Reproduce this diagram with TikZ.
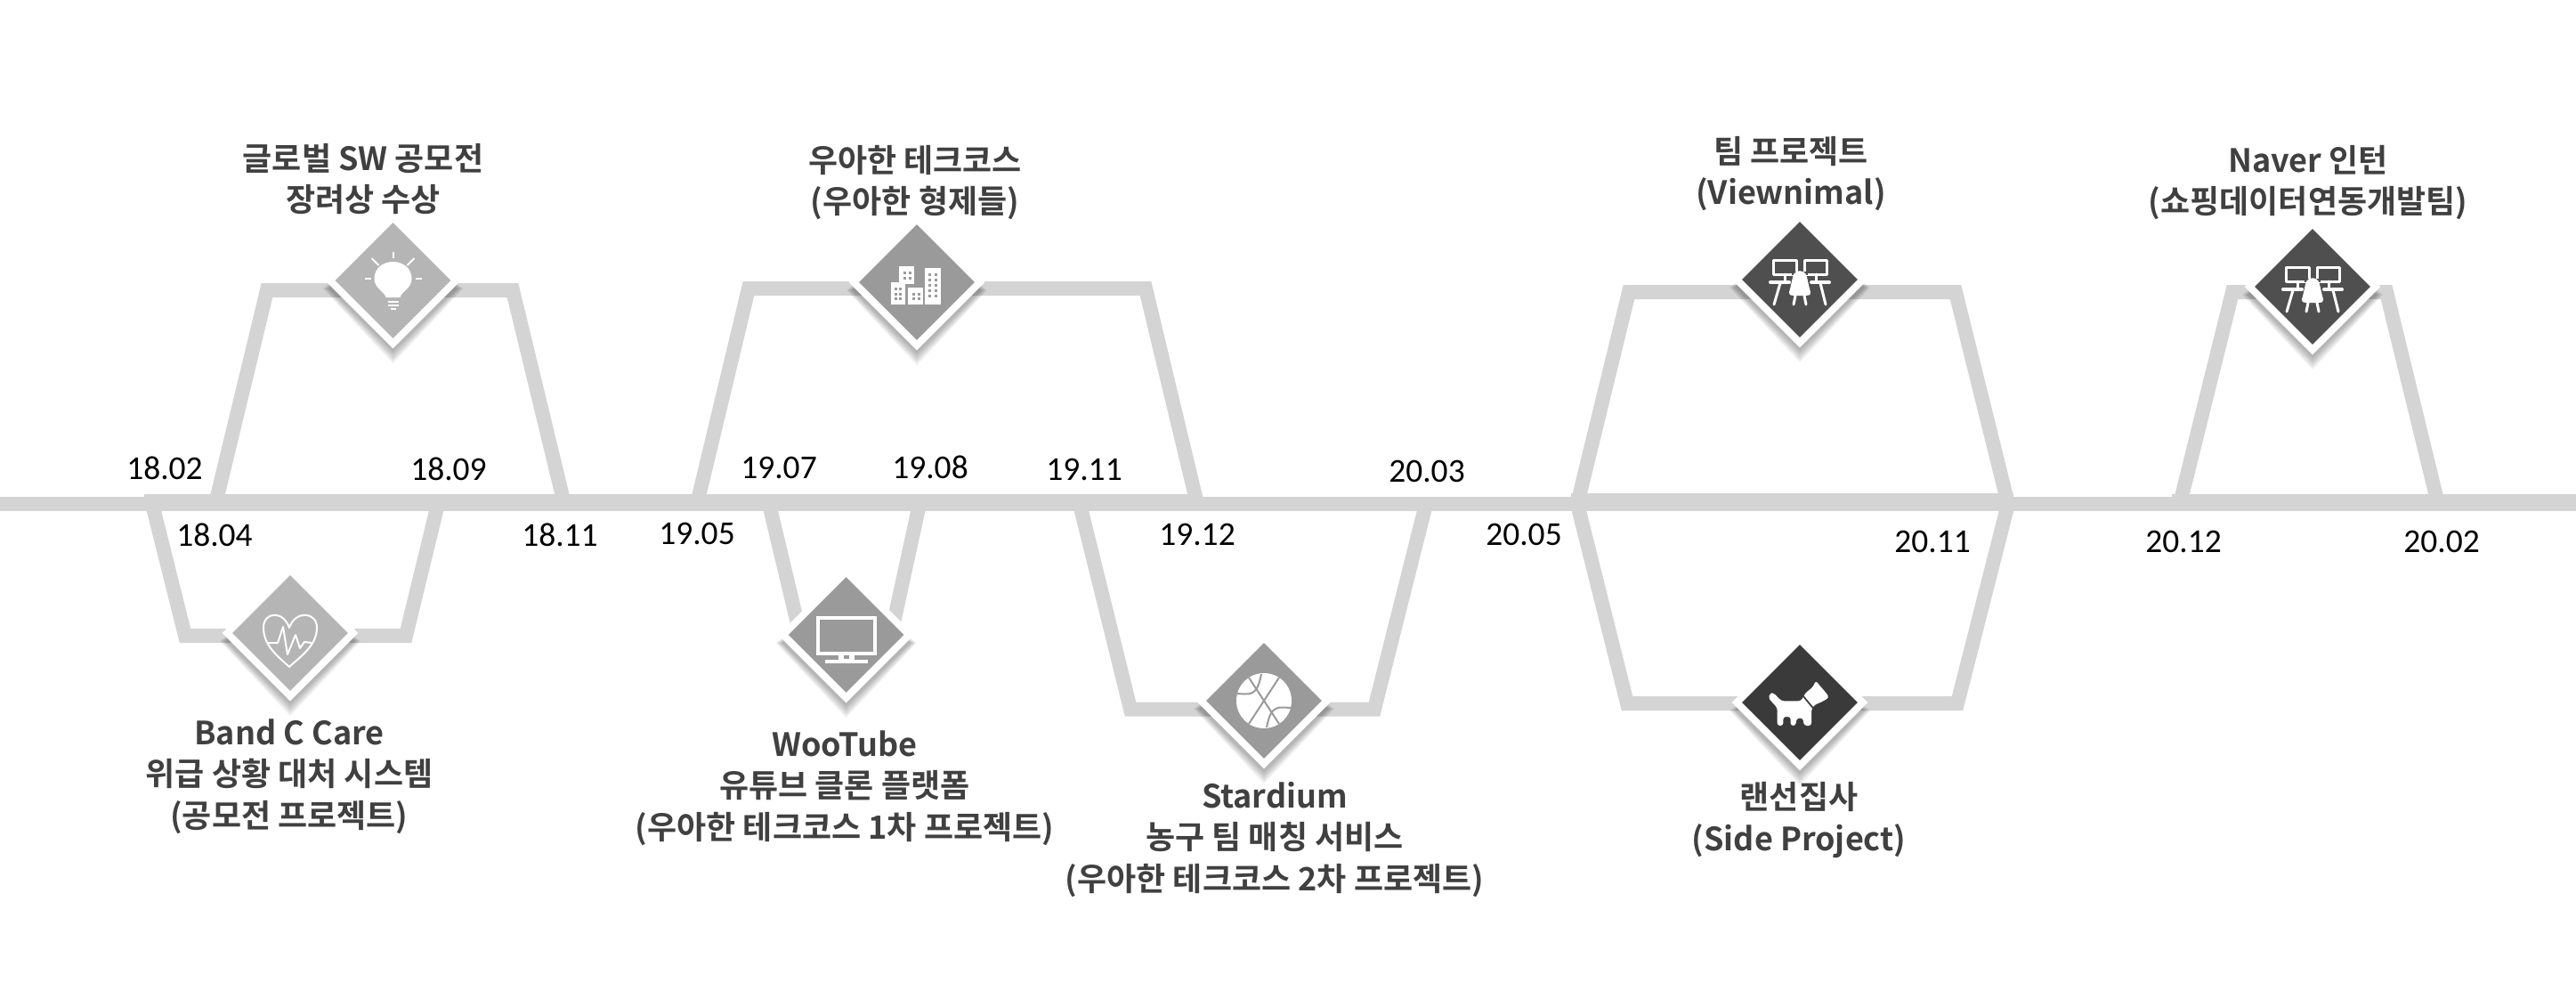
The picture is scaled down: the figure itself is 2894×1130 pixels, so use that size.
\documentclass[tikz,border=0pt]{standalone}
\usepackage{fontspec}
\usetikzlibrary{shapes.geometric}
\newfontfamily\krfont{Noto Sans CJK KR}[BoldFont={Noto Sans CJK KR Bold}]
\newfontfamily\datefont{Carlito}
\definecolor{track}{HTML}{D4D4D4}
\definecolor{titlegray}{HTML}{404040}
\definecolor{gA}{HTML}{B5B5B5}
\definecolor{gB}{HTML}{9A9A9A}
\definecolor{gC}{HTML}{4F4F4F}
\definecolor{gD}{HTML}{3A3A3A}
\tikzset{
  trackline/.style={draw=track,line width=16pt,line join=miter,miter limit=10},
  trackfill/.style={fill=track},
  datelabel/.style={font=\datefont\fontsize{37.5}{40}\selectfont,text=black,inner sep=0pt},
  titlelabel/.style={font=\krfont\bfseries\fontsize{36}{46.5}\selectfont,text=titlegray,align=center,inner sep=0pt},
  gem/.style={shape=diamond,aspect=1,draw=white,line width=8pt,inner sep=0pt,outer sep=0pt,minimum width=141.4pt,minimum height=141.4pt},
  iconline/.style={draw=white,line width=3pt,line cap=round,line join=round},
}
\newcommand{\gemat}[4]{%
  \foreach \k in {0,...,8}{
    \fill[black,opacity=.034] (#2-72-\k*0.9,#3+9) -- (#2,#3-50) -- (#2+72+\k*0.9,#3+9) -- (#2,#3+80+\k*1.7) -- cycle;
  }
  \node[gem,fill=#4] (#1) at (#2,#3) {};
}
\newcommand{\teamicon}{%
  \draw[iconline] (-30,-22) rectangle (-4,-6);
  \draw[iconline] (5,-22) rectangle (30,-6);
  \draw[iconline] (-17,-6) -- (-17,3);
  \draw[iconline] (18,-6) -- (18,3);
  \draw[iconline,line width=4pt] (-33,3) -- (-12,3);
  \draw[iconline,line width=4pt] (13,3) -- (33,3);
  \draw[iconline] (-22,4) -- (-29,28);
  \draw[iconline] (23,4) -- (29,28);
  \fill[gC] (-9,-9) rectangle (9,-5);
  \fill[white] (-7,-6) .. controls (-4,-11) and (4,-11) .. (7,-6) .. controls (9,0) and (10,8) .. (12,14) .. controls (12,18) and (9,18) .. (7,18) -- (-7,18) .. controls (-9,18) and (-12,18) .. (-12,14) .. controls (-10,8) and (-9,0) .. (-7,-6) -- cycle;
  \draw[iconline] (-5,18) -- (-7,28);
  \draw[iconline] (5,18) -- (7,28);
}
\begin{document}
\begin{tikzpicture}[x=1pt,y=-1pt]
\useasboundingbox (0,0) rectangle (2894,1130);
\fill[white] (0,0) rectangle (2894,1130);
% main line
\coordinate (m0) at (0,566);
\coordinate (m1) at (2894,566);
\draw[trackline] (m0) -- (m1);
\fill[trackfill] (162,555) rectangle (1335,570);
\fill[trackfill] (1765,554) rectangle (2262,570);
\fill[trackfill] (2440,555) rectangle (2894,570);
% branches
\coordinate (a1) at (242,566); \coordinate (a2) at (300,326); \coordinate (a3) at (576,326); \coordinate (a4) at (634,566);
\draw[trackline] (a1) -- (a2) -- (a3) -- (a4);
\coordinate (b1) at (171,566); \coordinate (b2) at (208,714); \coordinate (b3) at (456,714); \coordinate (b4) at (492,566);
\draw[trackline] (b1) -- (b2) -- (b3) -- (b4);
\coordinate (c1) at (783,566); \coordinate (c2) at (841,324); \coordinate (c3) at (1287,324); \coordinate (c4) at (1345,566);
\draw[trackline] (c1) -- (c2) -- (c3) -- (c4);
\coordinate (e1) at (864,566); \coordinate (e2) at (899,713); \coordinate (e3) at (1001,713); \coordinate (e4) at (1033,566);
\draw[trackline] (e1) -- (e2) -- (e3) -- (e4);
\coordinate (f1) at (1213,566); \coordinate (f2) at (1270,796.5); \coordinate (f3) at (1544,796.5); \coordinate (f4) at (1602,566);
\draw[trackline] (f1) -- (f2) -- (f3) -- (f4);
\coordinate (g1) at (1772,566); \coordinate (g2) at (1830,328); \coordinate (g3) at (2197,328); \coordinate (g4) at (2256,566);
\draw[trackline] (g1) -- (g2) -- (g3) -- (g4);
\coordinate (h1) at (1772,566); \coordinate (h2) at (1828,790); \coordinate (h3) at (2199,790); \coordinate (h4) at (2256,566);
\draw[trackline] (h1) -- (h2) -- (h3) -- (h4);
\coordinate (i1) at (2449,566); \coordinate (i2) at (2508,328); \coordinate (i3) at (2681,328); \coordinate (i4) at (2739,566);
\draw[trackline] (i1) -- (i2) -- (i3) -- (i4);
% gems
\gemat{dBulb}{441.5}{315}{gA}
\gemat{dHeart}{326}{711}{gA}
\gemat{dCity}{1030}{317}{gB}
\gemat{dTv}{950.6}{713}{gB}
\gemat{dBall}{1420}{787}{gB}
\gemat{dTeam}{2022}{314}{gC}
\gemat{dDog}{2022}{789}{gD}
\gemat{dNaver}{2598}{322}{gC}
% bulb
\begin{scope}[shift={(dBulb.center)}]
  \fill[white] (-8,19) .. controls (-9,13) and (-21,9) .. (-21,-2) .. controls (-21,-14) and (-11,-21) .. (0,-21) .. controls (11,-21) and (21,-14) .. (21,-2) .. controls (21,9) and (9,13) .. (8,19) -- cycle;
  \draw[white,line width=2.5pt] (-6,24) -- (6,24);
  \draw[white,line width=2.5pt] (-6,28) -- (6,28);
  \draw[white,line width=2.5pt] (-3,32) -- (3,32);
  \draw[white,line width=2pt] (0,-32) -- (0,-25);
  \draw[white,line width=2pt] (-24,-25) -- (-16,-17);
  \draw[white,line width=2pt] (24,-25) -- (16,-17);
  \draw[white,line width=2pt] (-32,-2) -- (-25,-2);
  \draw[white,line width=2pt] (25,-2) -- (32,-2);
\end{scope}
% heart
\begin{scope}[shift={(dHeart.center)}]
  \draw[white,line width=2pt,line join=round] (-1,38) .. controls (-14,26) and (-30,14) .. (-30,-6) .. controls (-30,-24) and (-8,-26) .. (-1,-6) .. controls (6,-26) and (30,-24) .. (30,-6) .. controls (30,14) and (12,26) .. (-1,38) -- cycle;
  \draw[white,line width=2pt,line join=round] (-25,11) -- (-14,11) -- (-8,-7) -- (-3,24) -- (6,2) -- (11,17) -- (16,10) -- (24,11);
\end{scope}
% city
\begin{scope}[shift={(dCity.center)}]
  \fill[white] (-29,0) rectangle (-13,25);
  \fill[white] (-20,-18) rectangle (-3,2);
  \fill[white] (-10,6) rectangle (7,25);
  \fill[white] (9,-16) rectangle (26.5,25);
  \foreach \px/\py in {-25/6,-20/6,-25/12,-20/12,-25/17,-20/17,-15/-12,-9/-12,-15/-6,-9/-6,-5/12,1/12,-5/17,1/17,13/-10,20/-10,13/-4,20/-4,13/2,20/2,13/8,20/8,13/14,20/14}
    \fill[gB] (\px,\py) rectangle ++(3,3);
\end{scope}
% tv
\begin{scope}[shift={(dTv.center)}]
  \draw[white,line width=4pt] (-32,-19) rectangle (32,21);
  \fill[white] (-9,21) rectangle (9,29);
  \fill[gB] (-3,23) rectangle (3,27);
  \fill[white] (-24,28) rectangle (24,32);
\end{scope}
% ball
\begin{scope}[shift={(dBall.center)}]
  \fill[white] (0,0) circle (31);
  \begin{scope}
    \clip (0,0) circle (31);
    \draw[gB,line width=2pt] (-19,-29) -- (19,29);
    \draw[gB,line width=2pt] (19,-29) -- (-19,29);
    \draw[gB,line width=2pt] (-32,-8) .. controls (-18,-8) and (-8,-2) .. (-3,-30);
    \draw[gB,line width=2pt] (32,8) .. controls (18,8) and (8,2) .. (3,30);
  \end{scope}
\end{scope}
% team icons
\begin{scope}[shift={(dTeam.center)}]\teamicon\end{scope}
\begin{scope}[shift={(dNaver.center)}]\teamicon\end{scope}
% dog
\begin{scope}[shift={(dDog.center)},x=0.3333pt,y=-0.3333pt]
  \fill[white,rounded corners=3pt] (-100,-32) -- (-88,-32) -- (-62,-5) -- (4,-5) -- (19,-32) -- (44,-52) -- (54,-74) -- (67,-57) -- (89,-32) -- (99,-17) -- (74,-2) -- (49,8) -- (39,23) -- (39,78) -- (14,78) -- (11,53) -- (-11,53) -- (-14,78) -- (-31,78) -- (-31,48) -- (-56,48) -- (-56,78) -- (-76,78) -- (-76,18) -- (-106,-15) -- cycle;
  \draw[gD,line width=1.7pt] (11,-22) -- (44,18);
\end{scope}
% dates
\node[datelabel] (d1802) at (185,526) {18.02};
\node[datelabel] (d1804) at (241,601) {18.04};
\node[datelabel] (d1809) at (504,527) {18.09};
\node[datelabel] (d1811) at (629,601) {18.11};
\node[datelabel] (d1905) at (783,599) {19.05};
\node[datelabel] (d1907) at (875,525) {19.07};
\node[datelabel] (d1908) at (1045,525) {19.08};
\node[datelabel] (d1911) at (1218,527) {19.11};
\node[datelabel] (d1912) at (1345,600) {19.12};
\node[datelabel] (d2003) at (1603,529) {20.03};
\node[datelabel] (d2005) at (1712,600) {20.05};
\node[datelabel] (d2011) at (2171,608) {20.11};
\node[datelabel] (d2012) at (2453,608) {20.12};
\node[datelabel] (d2002) at (2743,608) {20.02};
% titles
\node[titlelabel] (t1) at (408,201) {글로벌 SW 공모전\\장려상 수상};
\node[titlelabel] (t2) at (1028,205) {우아한 테크코스\\(우아한 형제들)};
\node[titlelabel] (t3) at (2012,195) {팀 프로젝트\\(Viewnimal)};
\node[titlelabel] (t4) at (2593,205) {Naver 인턴\\(쇼핑데이터연동개발팀)};
\node[titlelabel] (t5) at (325,872) {Band C Care\\위급 상황 대처 시스템\\(공모전 프로젝트)};
\node[titlelabel] (t6) at (949,885) {WooTube\\유튜브 클론 플랫폼\\(우아한 테크코스 1차 프로젝트)};
\node[titlelabel] (t7) at (1432,943) {Stardium\\농구 팀 매칭 서비스\\(우아한 테크코스 2차 프로젝트)};
\node[titlelabel] (t8) at (2021,921) {랜선집사\\(Side Project)};
\end{tikzpicture}
\end{document}
